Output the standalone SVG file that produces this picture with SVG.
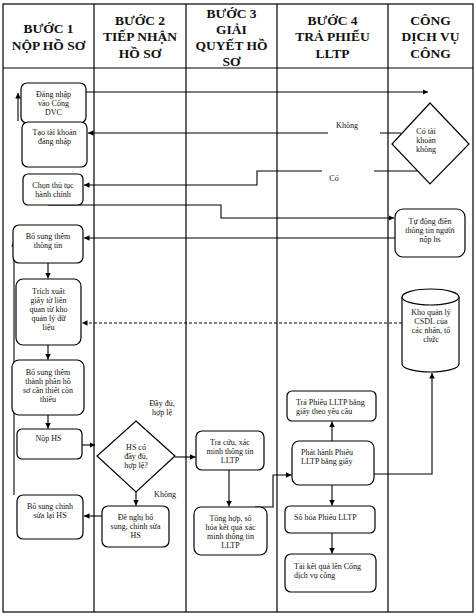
<svg xmlns="http://www.w3.org/2000/svg" width="476" height="616" viewBox="0 0 476 616">
<style>
.lane{fill:none;stroke:#000;stroke-width:1.2}
.hd{font-family:"Liberation Serif","Times New Roman",serif;font-size:13.5px;font-weight:bold;fill:#111;text-anchor:middle}
.box{fill:#fff;stroke:#000;stroke-width:1.2}
.t{font-family:"Liberation Serif","Times New Roman",serif;font-size:8px;fill:#111;text-anchor:middle}
.tl{font-family:"Liberation Serif","Times New Roman",serif;font-size:8px;fill:#111;text-anchor:start}
.c{fill:none;stroke:#000;stroke-width:1.1;marker-end:url(#ah)}
.cn{fill:none;stroke:#000;stroke-width:1.1}
.d{stroke-dasharray:3,2}
</style>
<defs>
<marker id="ah" viewBox="0 0 10 10" refX="10" refY="5" markerWidth="5.5" markerHeight="5.5" orient="auto" markerUnits="userSpaceOnUse">
<path d="M0,0 L10,5 L0,10 z" fill="#000"/>
</marker>
</defs>
<rect width="476" height="616" fill="#fff"/>
<g id="lanes">
<rect class="lane" x="3" y="4" width="470" height="608"/>
<line class="lane" x1="3" y1="68" x2="473" y2="68"/>
<line class="lane" x1="94" y1="4" x2="94" y2="612"/>
<line class="lane" x1="186" y1="4" x2="186" y2="612"/>
<line class="lane" x1="277" y1="4" x2="277" y2="612"/>
<line class="lane" x1="388" y1="4" x2="388" y2="612"/>
<text class="hd" x="48.5" y="33">BƯỚC 1</text>
<text class="hd" x="48.5" y="50">NỘP HỒ SƠ</text>
<text class="hd" x="140" y="25">BƯỚC 2</text>
<text class="hd" x="140" y="41">TIẾP NHẬN</text>
<text class="hd" x="140" y="58">HỒ SƠ</text>
<text class="hd" x="231.5" y="18">BƯỚC 3</text>
<text class="hd" x="231.5" y="34">GIẢI</text>
<text class="hd" x="231.5" y="50">QUYẾT HỒ</text>
<text class="hd" x="231.5" y="66">SƠ</text>
<text class="hd" x="332.5" y="25">BƯỚC 4</text>
<text class="hd" x="332.5" y="41">TRẢ PHIẾU</text>
<text class="hd" x="332.5" y="58">LLTP</text>
<text class="hd" x="430.5" y="25">CÔNG</text>
<text class="hd" x="430.5" y="41">DỊCH VỤ</text>
<text class="hd" x="430.5" y="58">CÔNG</text>
</g>
<g id="connectors">
<path class="c" d="M86,92 L428,92"/>
<path class="c" d="M401,133 L380,133 M328,133 L88,133"/>
<path class="c" d="M418,171 L374,171 M322,171 L257,171 L257,185 L84,185"/>
<path class="c" d="M48,205 L221,205 L221,218 L394,218"/>
<path class="c" d="M395,238 L84,238"/>
<path class="c d" d="M402,323 L82,323"/>
<path class="c" d="M48,263 L48,278.5"/>
<path class="c" d="M48,345 L48,359.5"/>
<path class="c" d="M48,415 L48,428.5"/>
<path class="c" d="M82,445 L95,445"/>
<path class="c" d="M175,457 L195.5,457"/>
<path class="c" d="M136,492 L136,505.5"/>
<path class="c" d="M102,516 L84,516"/>
<path class="c" d="M229,470 L229,506.5"/>
<path class="c" d="M255,507 L273,507 L273,475 L291.5,475"/>
<path class="c" d="M332,441 L332,421.5"/>
<path class="c" d="M374,474 L432,474 L432,373"/>
<path class="c" d="M332,485 L332,505.5"/>
<path class="c" d="M332,533 L332,553.5"/>
<path class="c" d="M18,121 L18,93"/>
<path class="c" d="M14,495 L14,241"/>
<text class="t" x="347" y="128">Không</text>
<text class="t" x="334" y="181">Có</text>
<text class="t" x="162" y="406">Đầy đủ,</text>
<text class="t" x="162" y="415">hợp lệ</text>
<text class="t" x="165" y="497">Không</text>
</g>
<g id="n-dangnhap">
<rect class="box" x="21" y="83" width="65" height="40" rx="6"/>
<text class="t" x="53.5" y="97">Đăng nhập</text>
<text class="t" x="53.5" y="106">vào Cổng</text>
<text class="t" x="53.5" y="115">DVC</text>
</g>
<g id="n-taotaikhoan">
<rect class="box" x="22" y="122" width="65" height="45" rx="6"/>
<text class="t" x="54.5" y="135">Tạo tài khoản</text>
<text class="t" x="54.5" y="144">đăng nhập</text>
</g>
<g id="n-chonthutuc">
<rect class="box" x="23" y="174" width="60" height="31" rx="5"/>
<text class="t" x="53" y="188">Chọn thủ tục</text>
<text class="t" x="53" y="197">hành chính</text>
</g>
<g id="n-bosungthongtin">
<rect class="box" x="13" y="225" width="70" height="38" rx="6"/>
<text class="t" x="48" y="239">Bổ sung thêm</text>
<text class="t" x="48" y="248">thông tin</text>
</g>
<g id="n-trichxuat">
<rect class="box" x="16" y="279" width="65" height="66" rx="7"/>
<text class="t" x="48.5" y="294">Trích xuất</text>
<text class="t" x="48.5" y="303">giấy tờ liên</text>
<text class="t" x="48.5" y="312">quan từ kho</text>
<text class="t" x="48.5" y="321">quản lý dữ</text>
<text class="t" x="48.5" y="330">liệu</text>
</g>
<g id="n-bosungthanhphan">
<rect class="box" x="12" y="360" width="72" height="55" rx="7"/>
<text class="t" x="48" y="375">Bổ sung thêm</text>
<text class="t" x="48" y="384">thành phần hồ</text>
<text class="t" x="48" y="393">sơ cần thiết còn</text>
<text class="t" x="48" y="402">thiếu</text>
</g>
<g id="n-nophs">
<rect class="box" x="17" y="429" width="65" height="30" rx="5"/>
<text class="t" x="48.5" y="441">Nộp HS</text>
</g>
<g id="n-bosungchinhsua">
<rect class="box" x="17" y="495" width="66" height="44" rx="6"/>
<text class="t" x="50" y="509">Bổ sung chỉnh</text>
<text class="t" x="50" y="518">sửa lại HS</text>
</g>
<g id="n-hsday">
<polygon class="box" points="136,421 175,456 136,492 97,456"/>
<text class="t" x="136" y="450">HS có</text>
<text class="t" x="136" y="459">đầy đủ,</text>
<text class="t" x="136" y="468">hợp lệ?</text>
</g>
<g id="n-denghi">
<rect class="box" x="102" y="506" width="67" height="41" rx="6"/>
<text class="t" x="135.5" y="520">Đề nghị bổ</text>
<text class="t" x="135.5" y="529">sung, chỉnh sửa</text>
<text class="t" x="135.5" y="538">HS</text>
</g>
<g id="n-tracuu">
<rect class="box" x="196" y="431" width="68" height="39" rx="6"/>
<text class="t" x="230" y="445">Tra cứu, xác</text>
<text class="t" x="230" y="454">minh thông tin</text>
<text class="t" x="230" y="463">LLTP</text>
</g>
<g id="n-tonghop">
<rect class="box" x="194" y="507" width="73" height="48" rx="7"/>
<text class="t" x="230.5" y="521">Tổng hợp, số</text>
<text class="t" x="230.5" y="530">hóa kết quả xác</text>
<text class="t" x="230.5" y="539">minh thông tin</text>
<text class="t" x="230.5" y="548">LLTP</text>
</g>
<g id="n-traphieu">
<rect class="box" x="287" y="391" width="89" height="30" rx="5"/>
<text class="tl" x="296" y="405">Trả Phiếu LLTP bằng</text>
<text class="tl" x="296" y="414">giấy theo yêu cầu</text>
</g>
<g id="n-phathanh">
<rect class="box" x="292" y="441" width="82" height="44" rx="7"/>
<text class="tl" x="301" y="455">Phát hành Phiếu</text>
<text class="tl" x="301" y="464">LLTP bằng giấy</text>
</g>
<g id="n-sohoa">
<rect class="box" x="285" y="506" width="90" height="27" rx="5"/>
<text class="tl" x="294" y="520">Số hóa Phiếu LLTP</text>
</g>
<g id="n-taiketqua">
<rect class="box" x="285" y="554" width="91" height="38" rx="6"/>
<text class="tl" x="294" y="569">Tải kết quả lên Cổng</text>
<text class="tl" x="294" y="578">dịch vụ công</text>
</g>
<g id="n-cotaikhoan">
<polygon class="box" points="430,103 469,144 430,184 392,144"/>
<text class="t" x="426" y="134">Có tài</text>
<text class="t" x="426" y="143">khoản</text>
<text class="t" x="426" y="152">không</text>
</g>
<g id="n-tudongdien">
<rect class="box" x="395" y="209" width="70" height="48" rx="8"/>
<text class="t" x="430" y="224">Tự động điền</text>
<text class="t" x="430" y="233">thông tin người</text>
<text class="t" x="430" y="242">nộp hs</text>
</g>
<g id="n-kho">
<path class="box" d="M402,297 L402,364 A28.5,8 0 0 0 459,364 L459,297"/>
<ellipse class="box" cx="430.5" cy="297" rx="28.5" ry="8"/>
<text class="t" x="431" y="315">Kho quản lý</text>
<text class="t" x="431" y="324">CSDL của</text>
<text class="t" x="431" y="333">các nhân, tổ</text>
<text class="t" x="431" y="342">chức</text>
</g>
</svg>
